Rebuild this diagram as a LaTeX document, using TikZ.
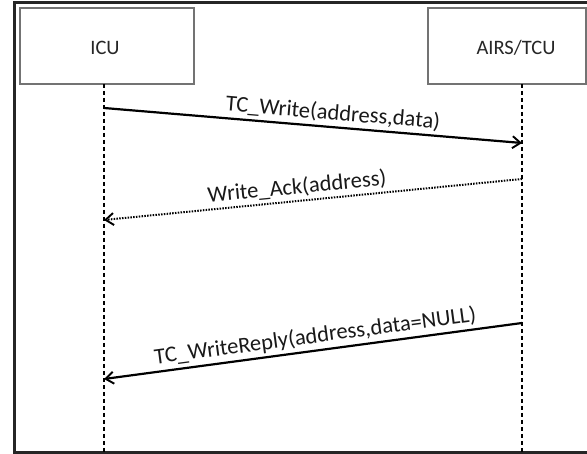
\documentclass[tikz,border=0pt]{standalone}
\usepackage{fontspec}
\setmainfont{Carlito}
\usetikzlibrary{arrows.meta}
\begin{document}
\begin{tikzpicture}[x=1pt,y=-1pt,
  partbox/.style={draw=black!55, line width=1.6pt, fill=white, inner sep=0pt,
    minimum height=76pt},
  parttext/.style={font=\fontsize{20.5}{24}\selectfont, text=black!85},
  lifeline/.style={line width=2.8pt, dash pattern=on 4.5pt off 2.5pt},
  msg/.style={line width=2.2pt, -{Straight Barb[length=8pt,width=12pt,line width=1.9pt]}},
  ackmsg/.style={msg, line width=2pt, dash pattern=on 1.5pt off 1.3pt},
  msglabel/.style={sloped, above, inner sep=3pt, text=black!90,
    font=\fontsize{22.5}{26}\selectfont}]
\useasboundingbox (0,0) rectangle (587,454);
\fill[white] (0,0) rectangle (587,454);
\clip (0,0) rectangle (587,454);

% outer frame (its right side lies past the page edge)
\draw[line width=3pt, black!85] (600,3) -- (14,3) -- (14,453) -- (600,453);

% participants
\node[partbox, minimum width=174pt] (icu) at (107,46) {};
\node[parttext] (icutext) at (105,48) {ICU};
\node[partbox, minimum width=158pt] (airs) at (507,46) {};
\node[parttext] (airstext) at (516,48) {AIRS/TCU};

% lifelines
\coordinate (icuTop) at (104,84);
\coordinate (icuBot) at (104,454);
\coordinate (airsTop) at (522,84);
\coordinate (airsBot) at (522,454);
\draw[lifeline] (icuTop) -- (icuBot);
\draw[lifeline] (airsTop) -- (airsBot);

% message end points on the lifelines
\coordinate (m1s) at (104,108);
\coordinate (m1e) at (522,143);
\coordinate (m2s) at (522,179);
\coordinate (m2e) at (104,220);
\coordinate (m3s) at (522,323);
\coordinate (m3e) at (104,379);

% messages
\draw[msg] (m1s) -- node[msglabel, pos=0.545] (l1) {TC\_Write(address,data)} (m1e);
\draw[ackmsg] (m2s) -- node[msglabel, pos=0.535] (l2) {Write\_Ack(address)} (m2e);
\draw[msg] (m3s) -- node[msglabel, pos=0.49] (l3) {TC\_WriteReply(address,data=NULL)} (m3e);
\end{tikzpicture}
\end{document}
